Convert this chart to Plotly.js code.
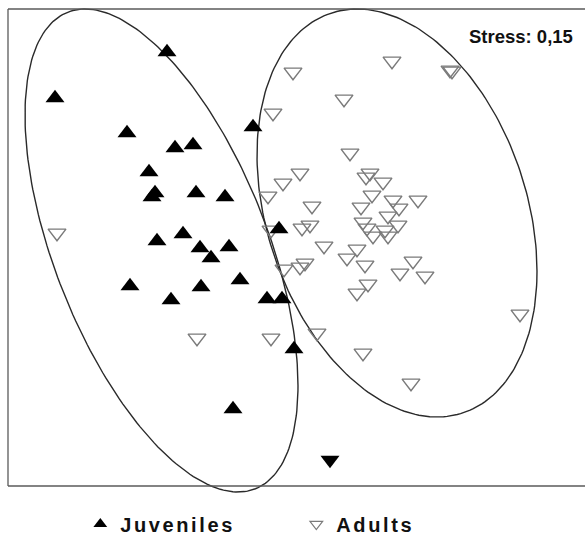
<!DOCTYPE html>
<html>
<head>
<meta charset="utf-8">
<script src="https://cdn.plot.ly/plotly-3.0.1.min.js"></script>
<style>
html,body{margin:0;padding:0;overflow:hidden;background:#fff;}
</style>
</head>
<body>
<div id="chart" style="width:595px;height:537px;"></div>
<script>
// NMDS coordinates
const juvX = [-1.33,-2.45,-1.73,-1.25,-1.07,-1.51,-1.45,-1.48,-1.04,-0.75,-0.47,-0.21,-1.43,-1.17,-1.00,-0.89,-0.71,-1.70,-0.99,-1.29,-0.60,-0.33,-0.18,-0.06,-0.67];
const juvY = [1.98,1.52,1.17,1.02,1.05,0.78,0.57,0.53,0.57,0.53,1.23,0.21,0.09,0.16,0.02,-0.08,0.03,-0.36,-0.37,-0.50,-0.30,-0.49,-0.49,-0.99,-1.59];

const outlierX = [0.30];
const outlierY = [-2.10];

const adultX = [-2.43,-1.03,-0.29,-0.07,0.92,1.50,1.52,0.44,-0.27,0.50,0.00,-0.17,-0.32,0.12,0.70,0.66,0.83,0.72,0.61,0.93,1.18,0.99,0.88,0.98,0.63,0.67,0.73,0.88,0.85,0.10,0.02,-0.29,0.24,0.57,0.47,0.65,0.05,0.00,-0.16,1.13,1.00,1.25,0.68,0.57,2.20,0.17,0.63,1.11];
const adultY = [0.17,-0.88,-0.88,1.78,1.89,1.80,1.79,1.51,1.37,0.97,0.77,0.67,0.54,0.44,0.77,0.73,0.68,0.55,0.43,0.50,0.50,0.42,0.34,0.25,0.28,0.22,0.14,0.14,0.20,0.25,0.22,0.20,0.04,0.01,-0.08,-0.15,-0.13,-0.17,-0.19,-0.11,-0.23,-0.26,-0.34,-0.43,-0.64,-0.83,-1.03,-1.33];

// Group ellipses: centre, half-width, half-height, x-offset of the top point
const juvEllipse = {cx:-1.385, cy:-0.005, hx:1.365, hy:2.415, tx:-0.765};
const adultEllipse = {cx:0.97, cy:0.37, hx:1.40, hy:2.04, tx:-0.40};

const legendNames = ["Juveniles", "Adults"];
const stressText = "Stress: 0,15";

function ellipsePath(e){
  const mxy = e.tx * e.hy;
  const l11 = e.hx, l21 = mxy / e.hx;
  const l22 = Math.sqrt(e.hy*e.hy - l21*l21);
  const xs = [], ys = [];
  for(let i=0;i<=240;i++){
    const t = 2*Math.PI*i/240;
    const c = Math.cos(t), s = Math.sin(t);
    xs.push(e.cx + l11*c);
    ys.push(e.cy + l21*c + l22*s);
  }
  return {xs, ys};
}
const ej = ellipsePath(juvEllipse);
const ea = ellipsePath(adultEllipse);

const FONT = "Liberation Sans, Arial, sans-serif";

const traces = [
  {x: ej.xs, y: ej.ys, mode:'lines', line:{color:'#2a2a2a', width:1.4}, showlegend:false, hoverinfo:'skip'},
  {x: ea.xs, y: ea.ys, mode:'lines', line:{color:'#2a2a2a', width:1.4}, showlegend:false, hoverinfo:'skip'},
  {x: adultX, y: adultY, mode:'markers', name:legendNames[1], showlegend:false,
   marker:{symbol:'triangle-down-open', size:15.5, color:'#7a7a7a', line:{width:1.4, color:'#7a7a7a'}}},
  {x: juvX, y: juvY, mode:'markers', name:legendNames[0], showlegend:false,
   marker:{symbol:'triangle-up', size:16.5, color:'#000'}},
  {x: outlierX, y: outlierY, mode:'markers', showlegend:false,
   marker:{symbol:'triangle-down', size:16.5, color:'#000'}},
  {x:[null], y:[null], mode:'markers', name:legendNames[0],
   marker:{symbol:'triangle-up', size:12, color:'#000'}},
  {x:[null], y:[null], mode:'markers', name:legendNames[1],
   marker:{symbol:'triangle-down-open', size:11, color:'#7a7a7a', line:{width:1.2, color:'#7a7a7a'}}}
];

const frameColor = '#5a5a5a';
const layout = {
  width:595, height:537,
  margin:{l:0, r:0, t:0, b:37},
  paper_bgcolor:'#fff', plot_bgcolor:'#fff',
  xaxis:{range:[-3, 2.95], showgrid:false, zeroline:false, showticklabels:false, showline:false, ticks:'', fixedrange:true},
  yaxis:{range:[-2.5, 2.5], showgrid:false, zeroline:false, showticklabels:false, showline:false, ticks:'', fixedrange:true},
  shapes:[
    {type:'line', xref:'x', yref:'y', x0:-2.92, x1:2.95, y0:2.41, y1:2.41, line:{color:frameColor, width:1.3}},
    {type:'line', xref:'x', yref:'y', x0:-2.92, x1:2.95, y0:-2.36, y1:-2.36, line:{color:frameColor, width:1.3}},
    {type:'line', xref:'x', yref:'y', x0:-2.92, x1:-2.92, y0:-2.36, y1:2.41, line:{color:frameColor, width:1.3}}
  ],
  annotations:[
    {text:'<b>'+stressText+'</b>', xref:'x', yref:'y', x:2.75, y:2.14, xanchor:'right', yanchor:'middle', showarrow:false,
     font:{family:FONT, size:18.5, color:'#111'}}
  ],
  showlegend:true,
  legend:{orientation:'h', x:0.498, xanchor:'center', yref:'container', y:0.024, yanchor:'middle',
    font:{family:FONT, size:20, color:'#111', weight:'bold'}, entrywidth:171, bgcolor:'rgba(0,0,0,0)'},
  font:{family:FONT}
};

Plotly.newPlot('chart', traces, layout, {displayModeBar:false, staticPlot:true}).then(function(gd){
  gd.querySelectorAll('.legendtext').forEach(function(t){ t.setAttribute('letter-spacing', '2.6'); });
});
</script>
</body>
</html>
